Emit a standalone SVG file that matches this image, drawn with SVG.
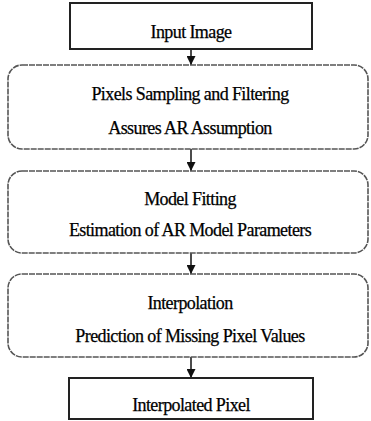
<svg xmlns="http://www.w3.org/2000/svg" width="371" height="421" viewBox="0 0 371 421">
<defs>
<style>
.t{font-family:'Liberation Serif','DejaVu Serif',serif;font-size:18px;fill:#000;text-anchor:middle;letter-spacing:-0.6px;stroke:#000;stroke-width:0.25}
.rect{fill:#fff;stroke:#222;stroke-width:2}
.rnd{fill:#fff;stroke:#555;stroke-width:1.6;stroke-dasharray:6 1}
.conn{stroke:#111;stroke-width:1.5;fill:none}
</style>
<marker id="ah" markerWidth="9" markerHeight="9" refX="9" refY="4.5" orient="auto" markerUnits="userSpaceOnUse">
<path d="M0,0 L9,4.5 L0,9 z" fill="#111"/>
</marker>
</defs>
<rect width="371" height="421" fill="#fff"/>
<g id="connectors">
<line class="conn" x1="191" y1="49" x2="191" y2="65" marker-end="url(#ah)"/>
<line class="conn" x1="191" y1="149" x2="191" y2="171" marker-end="url(#ah)"/>
<line class="conn" x1="191" y1="253" x2="191" y2="274" marker-end="url(#ah)"/>
<line class="conn" x1="191" y1="357" x2="191" y2="378" marker-end="url(#ah)"/>
</g>
<g id="input">
<rect class="rect" x="70" y="3" width="242" height="46"/>
<text class="t" x="191" y="38">Input Image</text>
</g>
<g id="sampling">
<rect class="rnd" x="8" y="65" width="360" height="84" rx="14"/>
<text class="t" x="190" y="100">Pixels Sampling and Filtering</text>
<text class="t" x="190" y="134">Assures AR Assumption</text>
</g>
<g id="fitting">
<rect class="rnd" x="8" y="171" width="360" height="82" rx="14"/>
<text class="t" x="190" y="205">Model Fitting</text>
<text class="t" x="190" y="236">Estimation of AR Model Parameters</text>
</g>
<g id="interp">
<rect class="rnd" x="8" y="274" width="360" height="83" rx="14"/>
<text class="t" x="190" y="309">Interpolation</text>
<text class="t" x="190" y="342">Prediction of Missing Pixel Values</text>
</g>
<g id="output">
<rect class="rect" x="69" y="378" width="244" height="41"/>
<text class="t" x="191" y="411">Interpolated Pixel</text>
</g>
</svg>
